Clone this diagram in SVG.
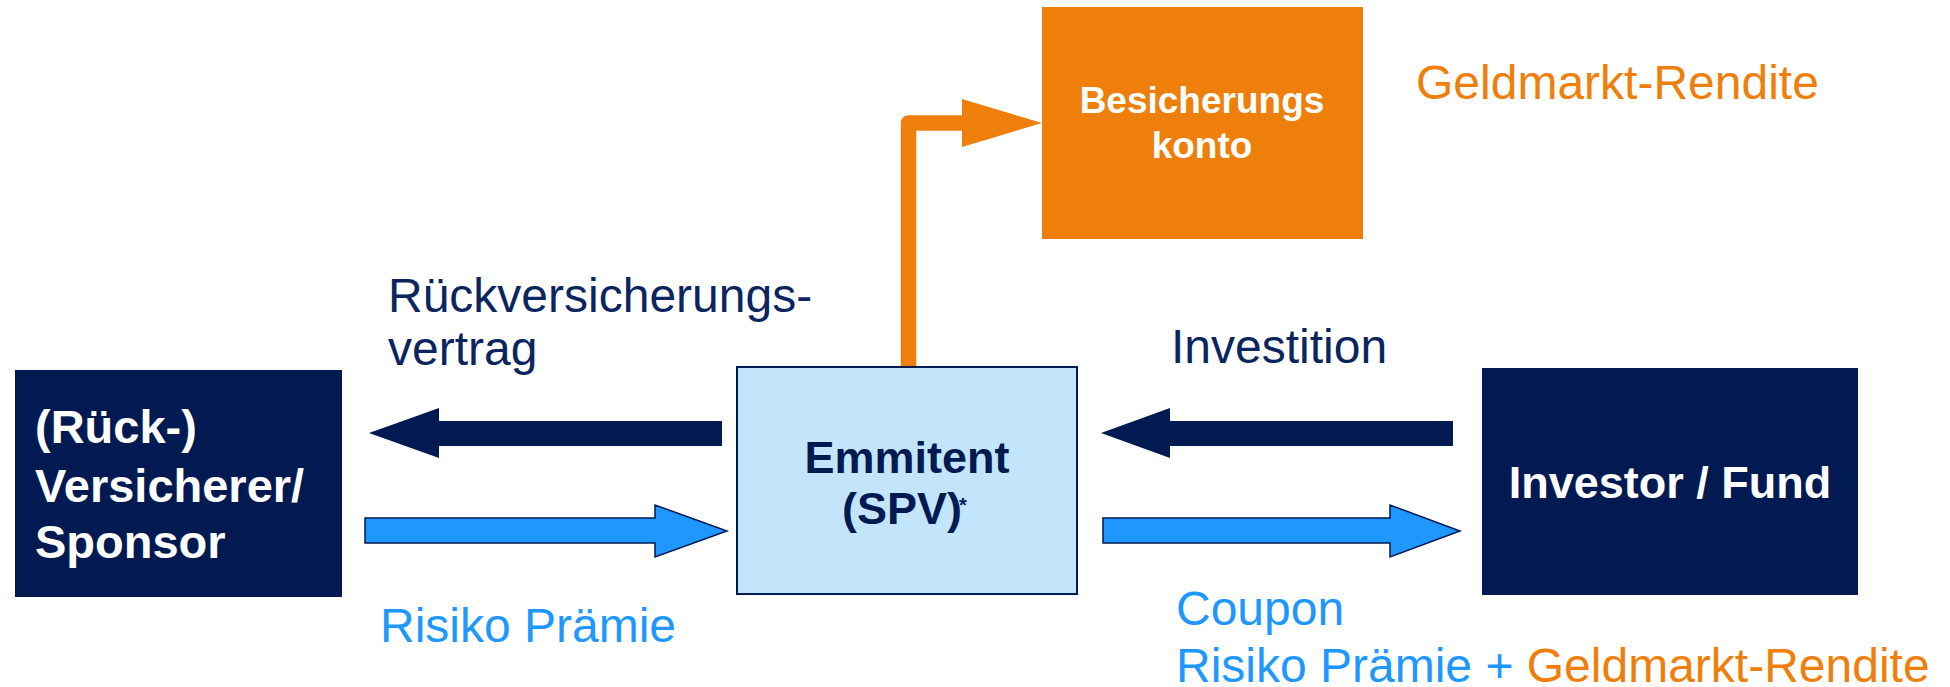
<svg xmlns="http://www.w3.org/2000/svg" width="1950" height="687" viewBox="0 0 1950 687">
  <style>
    .navybox { fill: #011A51; }
    .nodeT { font-family: "Liberation Sans", Arial, sans-serif; font-weight: bold; fill: #FFFFFF; }
    .lbl { font-family: "Liberation Sans", Arial, sans-serif; font-size: 48px; }
    .navyT { fill: #0B255F; }
    .blueT { fill: #1E97FF; }
    .orangeT { fill: #EF7F0B; }
    .darrow { fill: #011A51; }
    .barrow { fill: #1E97FF; stroke: #011A51; stroke-width: 1.5; stroke-linejoin: miter; }
  </style>
  <rect width="1950" height="687" fill="#FFFFFF"/>

  <g id="connectors">
    <path d="M908.5,367 V123 H962" fill="none" stroke="#EF7F0B" stroke-width="15.5" stroke-linejoin="round"/>
    <polygon points="962,99 1042,123 962,147" fill="#EF7F0B"/>
    <polygon class="darrow" points="722,421 439,421 439,408 369,433 439,458 439,446 722,446"/>
    <polygon class="darrow" points="1453,421 1170,421 1170,408 1101,433 1170,458 1170,446 1453,446"/>
    <polygon class="barrow" points="365,518 655,518 655,505 727,531 655,557 655,543 365,543"/>
    <polygon class="barrow" points="1103,518 1390,518 1390,505 1460,531 1390,557 1390,543 1103,543"/>
  </g>

  <g id="node-sponsor">
    <rect class="navybox" x="15" y="370" width="327" height="227"/>
    <text class="nodeT" font-size="47" x="35" y="443">(Rück-)</text>
    <text class="nodeT" font-size="47" x="35" y="502">Versicherer/</text>
    <text class="nodeT" font-size="47" x="35" y="558">Sponsor</text>
  </g>

  <g id="node-spv">
    <rect x="737" y="367" width="340" height="227" fill="#C3E5FB" stroke="#011A51" stroke-width="2"/>
    <text class="nodeT" font-size="45" x="907" y="473" text-anchor="middle" style="fill:#011A51">Emmitent</text>
    <text class="nodeT" font-size="45" x="902" y="524" text-anchor="middle" style="fill:#011A51">(SPV)</text>
    <text class="nodeT" font-size="20" x="959" y="512" style="fill:#011A51">*</text>
  </g>

  <g id="node-investor">
    <rect class="navybox" x="1482" y="368" width="376" height="227"/>
    <text class="nodeT" font-size="45" x="1670" y="498" text-anchor="middle">Investor / Fund</text>
  </g>

  <g id="node-besicherung">
    <rect x="1042" y="7" width="321" height="232" fill="#EF7F0B"/>
    <text class="nodeT" font-size="37" x="1202" y="113" text-anchor="middle">Besicherungs</text>
    <text class="nodeT" font-size="37" x="1202" y="158" text-anchor="middle">konto</text>
  </g>

  <g id="labels">
    <text class="lbl orangeT" x="1416" y="99">Geldmarkt-Rendite</text>
    <text class="lbl navyT" x="388" y="312">Rückversicherungs-</text>
    <text class="lbl navyT" x="388" y="365">vertrag</text>
    <text class="lbl navyT" x="1171" y="363">Investition</text>
    <text class="lbl blueT" x="380" y="642">Risiko Prämie</text>
    <text class="lbl blueT" x="1176" y="625">Coupon</text>
    <text class="lbl" x="1176" y="682"><tspan class="blueT">Risiko Prämie + </tspan><tspan class="orangeT">Geldmarkt-Rendite</tspan></text>
  </g>
</svg>
